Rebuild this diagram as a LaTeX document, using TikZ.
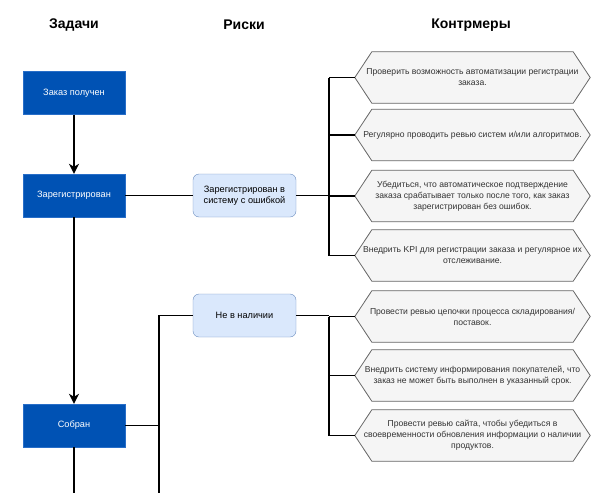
\documentclass[tikz,border=0pt]{standalone}
\usepackage{fontspec}
\setmainfont{Liberation Sans}
\usetikzlibrary{arrows.meta,backgrounds}
\definecolor{taskblue}{RGB}{0,82,180}
\definecolor{taskedge}{RGB}{40,110,200}
\definecolor{riskfill}{HTML}{DAE8FC}
\definecolor{riskedge}{HTML}{6C8EBF}
\definecolor{hexfill}{HTML}{F5F5F5}
\definecolor{hexedge}{HTML}{666666}
\definecolor{hextext}{HTML}{333333}
\tikzset{
  heading/.style={font=\fontsize{14}{16}\selectfont\bfseries},
  task/.style={draw=taskedge, fill=taskblue, text=white, minimum width=102pt, minimum height=43pt, inner sep=0pt, font=\fontsize{9.2}{11}\selectfont},
  risk/.style={draw=riskedge, fill=riskfill, rounded corners=6pt, minimum width=103pt, minimum height=43pt, inner sep=0pt, align=center, font=\fontsize{9.2}{11}\selectfont},
  hexbox/.style={minimum width=235pt, minimum height=51pt, inner sep=0pt, align=center, text=hextext, font=\fontsize{8.6}{11}\selectfont},
  hexline/.style={draw=hexedge, fill=hexfill, line width=0.8pt},
  conn/.style={line width=1.4pt, black},
  arr/.style={conn, -{Stealth[length=10pt,width=10pt,inset=3pt]}}
}
\begin{document}
\begin{tikzpicture}[x=1pt,y=-1pt]
\useasboundingbox (0,0) rectangle (600,493);
\node[heading] (hd1) at (74,25) {Задачи};
\node[heading] (hd2) at (244,25) {Риски};
\node[heading] (hd3) at (471,25) {Контрмеры};

\node[task] (t1) at (74,93) {Заказ получен};
\node[task] (t2) at (74,195.5) {Зарегистрирован};
\node[task] (t3) at (74,425.5) {Собран};

\node[risk] (r1) at (244.5,195.5) {Зарегистрирован в\\систему с ошибкой};
\node[risk] (r2) at (244.5,315.5) {Не в наличии};

\node[hexbox] (h1) at (472.5,77.5) {Проверить возможность автоматизации регистрации\\заказа.};
\node[hexbox] (h2) at (472.5,135) {Регулярно проводить ревью систем и/или алгоритмов.};
\node[hexbox] (h3) at (472.5,196) {Убедиться, что автоматическое подтверждение\\заказа срабатывает только после того, как заказ\\зарегистрирован без ошибок.};
\node[hexbox] (h4) at (472.5,255.5) {Внедрить KPI для регистрации заказа и регулярное их\\отслеживание.};
\node[hexbox] (h5) at (472.5,316.5) {Провести ревью цепочки процесса складирования/\\поставок.};
\node[hexbox] (h6) at (472.5,375.5) {Внедрить систему информирования покупателей, что\\заказ не может быть выполнен в указанный срок.};
\node[hexbox] (h7) at (472.5,435.5) {Провести ревью сайта, чтобы убедиться в\\своевременности обновления информации о наличии\\продуктов.};

\begin{scope}[on background layer]
\foreach \h in {h1,h2,h3,h4,h5,h6,h7}{
  \draw[hexline] (\h.west) -- ([xshift=17pt]\h.north west) -- ([xshift=-17pt]\h.north east) -- (\h.east) -- ([xshift=-17pt]\h.south east) -- ([xshift=17pt]\h.south west) -- cycle;
}
\end{scope}

\coordinate (busA) at (329,0);
\coordinate (busB) at (159,0);
\coordinate (bot) at (0,493);

\draw[arr] (t1.south) -- (t2.north);
\draw[arr] (t2.south) -- (t3.north);
\draw[conn] (t3.south) -- (t3.south |- bot);

\draw[conn] (t2.east) -- (r1.west);
\draw[conn] (r1.east) -- (r1.east -| busA);
\draw[conn] (h1.west -| busA) -- (h4.west -| busA);
\foreach \h in {h1,h2,h3,h4}{ \draw[conn] (\h.west -| busA) -- (\h.west); }

\draw[conn] (t3.east) -- (t3.east -| busB);
\draw[conn] (r2.west) -| (busB |- bot);
\draw[conn] (r2.east) -- (r2.east -| busA);
\draw[conn] (h5.west -| busA) -- (h7.west -| busA);
\foreach \h in {h5,h6,h7}{ \draw[conn] (\h.west -| busA) -- (\h.west); }
\end{tikzpicture}
\end{document}
